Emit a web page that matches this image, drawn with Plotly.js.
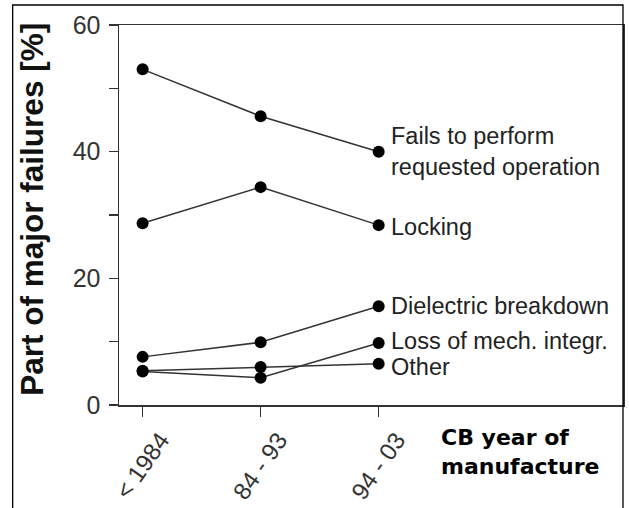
<!DOCTYPE html>
<html>
<head>
<meta charset="utf-8">
<script src="https://cdn.plot.ly/plotly-3.0.1.min.js"></script>
<style>
html,body{margin:0;padding:0;background:#fff;}
#chart{width:629px;height:508px;}
</style>
</head>
<body>
<div id="chart"></div>
<script>
const categories = ["< 1984", "84 - 93", "94 - 03"];
const seriesNames = ["Fails to perform<br>requested operation", "Locking", "Dielectric breakdown", "Loss of mech. integr.", "Other"];
const failsToPerform = [53.0, 45.6, 40.0];
const locking = [28.7, 34.4, 28.4];
const dielectric = [7.6, 9.9, 15.6];
const lossMech = [5.3, 4.3, 9.8];
const other = [5.4, 6.0, 6.5];
const yTickVals = [0, 10, 20, 30, 40, 50, 60];
const yTickText = ["0", "", "20", "", "40", "", "60"];
const labelYShift = [0, -2, 0, 2, -3];

const seriesValues = [failsToPerform, locking, dielectric, lossMech, other];
const xIdx = categories.map((c, i) => i);

const traces = seriesValues.map((vals, k) => ({
  type: "scatter",
  mode: "lines+markers",
  x: xIdx,
  y: vals,
  name: seriesNames[k],
  line: {color: "#333333", width: 1.5},
  marker: {color: "#000000", size: 12, symbol: "circle"},
  cliponaxis: false,
  hoverinfo: "skip"
}));

const annotations = seriesValues.map((vals, k) => ({
  x: xIdx[xIdx.length - 1],
  y: vals[vals.length - 1],
  xref: "x", yref: "y",
  text: seriesNames[k],
  showarrow: false,
  xanchor: "left",
  yanchor: "middle",
  align: "left",
  xshift: 10,
  yshift: labelYShift[k],
  font: {family: "Liberation Sans, Arial, sans-serif", size: 23.5, color: "#222222"}
}));

annotations.push({
  x: -0.1726, y: 0.514, xref: "paper", yref: "paper",
  text: "Part of major failures [%]",
  textangle: -90,
  showarrow: false,
  xanchor: "center", yanchor: "middle",
  font: {family: "Liberation Sans, Arial, sans-serif", size: 31.5, color: "#111111", weight: "bold"}
});
annotations.push({
  x: 0.634, y: -0.048, xref: "paper", yref: "paper",
  text: "<b>CB year of<br>manufacture</b>",
  showarrow: false,
  xanchor: "left", yanchor: "top", align: "left",
  font: {family: "DejaVu Sans, sans-serif", size: 22, color: "#000000"}
});

const layout = {
  width: 629, height: 508,
  margin: {l: 119, r: 6, t: 25, b: 102.5},
  paper_bgcolor: "#ffffff", plot_bgcolor: "#ffffff",
  showlegend: false,
  xaxis: {
    range: [-0.2, 4.07],
    tickvals: xIdx,
    ticktext: categories,
    tickangle: -55,
    ticklabelshift: 18,
    ticks: "outside", ticklen: 10, tickwidth: 1.5, tickcolor: "#333333",
    showline: true, linecolor: "#333333", linewidth: 1.5, mirror: true,
    showgrid: false, zeroline: false,
    tickfont: {family: "Liberation Sans, Arial, sans-serif", size: 24, color: "#333333"}
  },
  yaxis: {
    range: [0, 60],
    tickvals: yTickVals,
    ticktext: yTickText,
    ticks: "outside", ticklen: 9, tickwidth: 1.5, tickcolor: "#333333",
    ticklabelstandoff: 3,
    showline: true, linecolor: "#333333", linewidth: 1.5, mirror: true,
    showgrid: false, zeroline: false,
    tickfont: {family: "Liberation Sans, Arial, sans-serif", size: 25, color: "#333333"}
  },
  annotations: annotations,
  shapes: [{
    type: "rect", xref: "paper", yref: "paper",
    x0: -0.211, x1: 1.0, y0: -0.28, y1: 1.0526,
    line: {color: "#000000", width: 1.3}
  }]
};

Plotly.newPlot("chart", traces, layout, {staticPlot: true, displayModeBar: false});
</script>
</body>
</html>
